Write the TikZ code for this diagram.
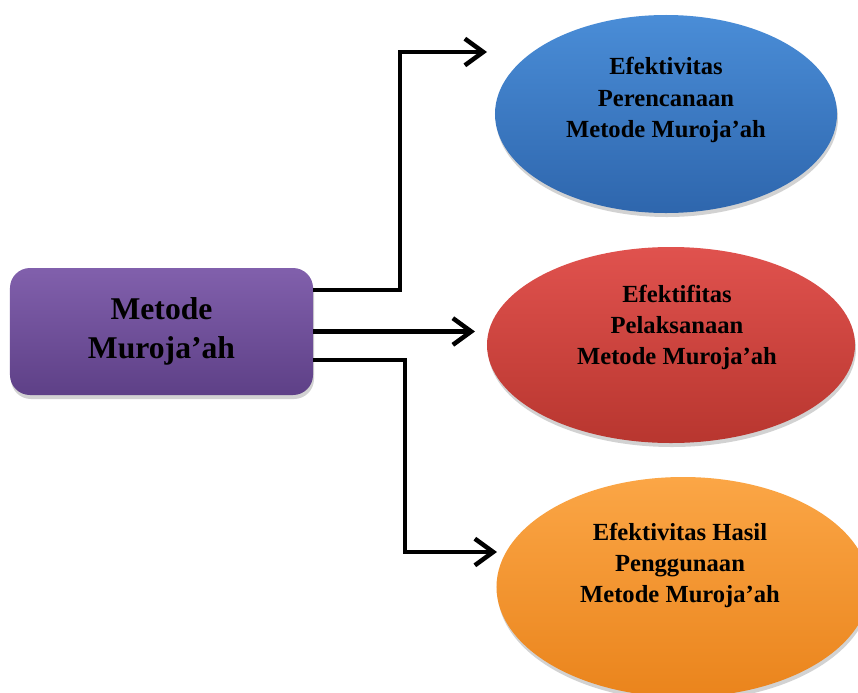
\documentclass[tikz,border=0pt]{standalone}
\usepackage{fontspec}
\setmainfont{Liberation Serif}
\usetikzlibrary{shapes.geometric,arrows.meta,shadows,positioning}
\definecolor{mmPurT}{HTML}{8160AC}
\definecolor{mmPurB}{HTML}{5E4087}
\definecolor{mmBluT}{HTML}{4A8DD7}
\definecolor{mmBluB}{HTML}{2E66AD}
\definecolor{mmRedT}{HTML}{E0524E}
\definecolor{mmRedB}{HTML}{B8362F}
\definecolor{mmOraT}{HTML}{FBA646}
\definecolor{mmOraB}{HTML}{EA841C}

\tikzset{mmbox/.style={rectangle,rounded corners=0.6cm,draw=none,inner sep=0pt,
           minimum width=9.09cm,minimum height=3.81cm,align=center,
           drop shadow={opacity=0.35,shadow xshift=0.03cm,shadow yshift=-0.12cm},
           font=\fontsize{27}{33}\selectfont\bfseries},
         mmell/.style={ellipse,draw=none,inner sep=0pt,
           drop shadow={opacity=0.35,shadow xshift=0.03cm,shadow yshift=-0.12cm}},
         mmtxt/.style={align=center,inner sep=0pt,font=\fontsize{21}{26.5}\selectfont\bfseries},
         mmarr/.style={line width=0.135cm,-{Straight Barb[length=0.55cm,width=0.8cm]}}}

\begin{document}
\begin{tikzpicture}[x=0.03cm,y=-0.03cm]
  \useasboundingbox[fill=white] (0,0) rectangle (858,693);
  % source
  \node[mmbox,top color=mmPurT,bottom color=mmPurB] (muro) at (161.5,331.5) {Metode\\Muroja'ah};
  % targets
  \node[mmell,top color=mmBluT,bottom color=mmBluB,minimum width=10.26cm,minimum height=5.94cm] (plan) at (666,114) {};
  \node[mmtxt] (plantxt) at ([yshift=0.42cm]plan.center) {Efektivitas\\Perencanaan\\Metode Muroja'ah};
  \node[mmell,top color=mmRedT,bottom color=mmRedB,minimum width=11.04cm,minimum height=5.88cm] (laks) at (671,345) {};
  \node[mmtxt] (lakstxt) at ([xshift=0.18cm,yshift=0.54cm]laks.center) {Efektifitas\\Pelaksanaan\\Metode Muroja'ah};
  \node[mmell,top color=mmOraT,bottom color=mmOraB,minimum width=11.19cm,minimum height=6.6cm] (hasil) at (683,587) {};
  \node[mmtxt] (hasiltxt) at ([xshift=-0.09cm,yshift=0.66cm]hasil.center) {Efektivitas Hasil\\Penggunaan\\Metode Muroja'ah};
  % arrows
  \coordinate (tipA) at (487,52);
  \coordinate (tipB) at (475,332);
  \coordinate (tipC) at (497,552);
  \draw[mmarr] ([yshift=1.245cm]muro.east) -- ++(87,0) |- (tipA);
  \draw[mmarr] (muro.east) -- (muro.east -| tipB);
  \draw[mmarr] ([yshift=-0.855cm]muro.east) -- ++(92,0) |- (tipC);
\end{tikzpicture}
\end{document}
